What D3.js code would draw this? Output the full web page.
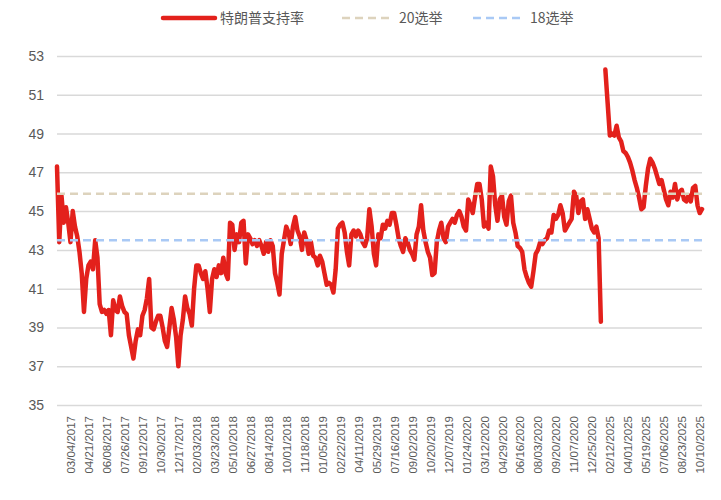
<!DOCTYPE html>
<html>
<head>
<meta charset="utf-8">
<script src="https://cdn.jsdelivr.net/npm/d3@7/dist/d3.min.js"></script>
<style>
  body { margin: 0; background: #fff; }
  #chart text { font-family: "Liberation Sans", Arial, sans-serif; fill: #595959; }
  #chart .legend text { font-family: "Noto Sans CJK SC", "Liberation Sans", sans-serif; }
</style>
</head>
<body>
<div id="chart"></div>
<script>
// x labels, one every 8 samples (48 days) starting at sample 6
const tickLabels = [
  "03/04/2017", "04/21/2017", "06/08/2017", "07/26/2017", "09/12/2017", "10/30/2017",
  "12/17/2017", "02/03/2018", "03/23/2018", "05/10/2018", "06/27/2018", "08/14/2018",
  "10/01/2018", "11/18/2018", "01/05/2019", "02/22/2019", "04/11/2019", "05/29/2019",
  "07/16/2019", "09/02/2019", "10/20/2019", "12/07/2019", "01/24/2020", "03/12/2020",
  "04/29/2020", "06/16/2020", "08/03/2020", "09/20/2020", "11/07/2020", "12/25/2020",
  "02/12/2025", "04/01/2025", "05/19/2025", "07/06/2025", "08/23/2025", "10/10/2025"
];
const firstTick = 6;
const tickStep = 8;

// approval rating, sampled every 6 days (null = gap between 2021 and 2025)
const approval = [
  47.3, 43.4, 45.8, 44.4, 45.2, 44.4, 43.4, 45.0, 44.2, 43.7,
  42.9, 41.8, 39.8, 41.5, 42.2, 42.4, 42.0, 43.5, 42.6, 40.2,
  39.8, 39.9, 39.7, 39.9, 38.6, 40.4, 39.9, 39.8, 40.6, 40.1,
  39.8, 39.7, 38.6, 38.0, 37.4, 38.3, 38.9, 38.6, 39.6, 39.9,
  40.5, 41.5, 39.0, 38.9, 39.3, 39.6, 39.6, 39.0, 38.3, 38.0,
  39.0, 40.0, 39.4, 38.5, 37.0, 38.6, 39.4, 40.6, 40.0, 39.7,
  39.1, 41.0, 42.2, 42.2, 41.8, 41.5, 41.9, 41.0, 39.8, 41.5,
  42.0, 41.6, 42.2, 41.8, 42.6, 41.8, 41.5, 44.4, 44.3, 43.0,
  43.8, 43.4, 44.4, 44.5, 42.3, 43.8, 43.6, 43.3, 43.5, 43.2,
  43.5, 43.2, 42.8, 43.4, 42.9, 43.5, 43.2, 41.8, 41.3, 40.7,
  42.8, 43.5, 44.2, 43.9, 43.3, 44.2, 44.7, 44.0, 43.7, 43.0,
  43.9, 43.5, 42.8, 43.4, 42.7, 42.6, 42.2, 42.7, 42.4, 41.8,
  41.2, 41.3, 41.2, 40.8, 42.0, 44.1, 44.3, 44.4, 43.9, 42.9,
  42.2, 43.8, 44.0, 43.7, 44.0, 43.8, 43.4, 43.2, 43.6, 45.1,
  44.2, 42.8, 42.2, 43.8, 43.6, 44.3, 44.1, 44.5, 44.3, 44.9,
  44.9, 44.3, 43.6, 43.2, 42.9, 43.6, 43.4, 43.0, 42.8, 42.5,
  43.8, 44.2, 45.3, 44.0, 43.4, 42.9, 42.6, 41.7, 41.8, 43.4,
  44.0, 44.4, 43.6, 43.4, 44.2, 44.4, 44.6, 44.4, 44.8, 45.0,
  44.7, 44.2, 44.0, 45.6, 45.3, 44.9, 45.7, 46.4, 46.4, 45.6,
  44.2, 44.4, 44.1, 47.3, 46.8, 45.3, 44.5, 45.6, 45.8, 44.7,
  44.3, 45.5, 45.8, 44.4, 43.9, 43.2, 43.1, 42.9, 42.0, 41.6,
  41.3, 41.1, 41.9, 42.8, 43.0, 43.4, 43.3, 43.5, 43.6, 44.0,
  43.9, 44.8, 44.6, 44.8, 45.3, 44.9, 44.0, 44.2, 44.4, 44.6,
  46.0, 45.8, 44.9, 45.5, 45.6, 44.6, 45.1, 44.6, 44.1, 43.9,
  44.2, 43.6, 39.3, null, 52.3, 50.6, 48.9, 49.0, 48.9, 49.4,
  48.8, 48.6, 48.1, 48.0, 47.8, 47.5, 47.1, 46.6, 46.2, 45.7,
  45.1, 45.2, 46.3, 47.2, 47.7, 47.5, 47.2, 46.8, 46.4, 46.6,
  46.1, 45.6, 45.3, 46.0, 45.7, 46.4, 45.6, 46.0, 46.1, 45.6,
  45.5, 45.8, 45.5, 46.2, 46.3, 45.3, 44.9, 45.1
];

// election reference levels
const election20 = 45.9;
const election18 = 43.5;

const yTicks = [35, 37, 39, 41, 43, 45, 47, 49, 51, 53];

const width = 721;
const height = 500;
const margin = { top: 56, right: 19, bottom: 95, left: 57 };

const svg = d3.select("#chart").append("svg").attr("width", width).attr("height", height);

const x = d3.scaleLinear().domain([0, approval.length - 1]).range([margin.left, width - margin.right]);
const y = d3.scaleLinear().domain([35, 53]).range([height - margin.bottom, margin.top]);

// horizontal grid + y labels
svg.append("g")
  .attr("transform", "translate(" + margin.left + ",0)")
  .call(d3.axisLeft(y).tickValues(yTicks).tickSize(-(width - margin.left - margin.right)).tickPadding(13).tickFormat(d3.format("d")))
  .call(g => g.select(".domain").remove())
  .call(g => g.selectAll(".tick line").attr("stroke", "#d9d9d9").attr("stroke-width", 1.5))
  .call(g => g.selectAll(".tick text").attr("font-size", 14).attr("fill", "#595959"));

// x labels (rotated)
const tickIdx = tickLabels.map((d, i) => firstTick + i * tickStep);
svg.append("g")
  .attr("transform", "translate(0," + (height - margin.bottom) + ")")
  .call(d3.axisBottom(x).tickValues(tickIdx).tickSize(0).tickFormat((d, i) => tickLabels[i]))
  .call(g => g.select(".domain").remove())
  .call(g => g.selectAll(".tick text")
    .attr("font-size", 11.5)
    .attr("fill", "#666")
    .attr("text-anchor", "end")
    .attr("transform", "rotate(-90)")
    .attr("x", -11)
    .attr("y", 0)
    .attr("dy", "0.35em"));

// approval line
const line = d3.line()
  .defined(d => d != null)
  .x((d, i) => x(i))
  .y(d => y(d));

svg.append("path")
  .datum(approval)
  .attr("fill", "none")
  .attr("stroke", "#e3211c")
  .attr("stroke-width", 4.5)
  .attr("stroke-linejoin", "round")
  .attr("stroke-linecap", "round")
  .attr("d", line);

// election reference lines
const refs = [
  { value: election20, color: "#ddd3bd" },
  { value: election18, color: "#a9c9f5" }
];
svg.selectAll(".ref")
  .data(refs)
  .enter()
  .append("line")
  .attr("class", "ref")
  .attr("x1", x(0))
  .attr("x2", x(approval.length - 1))
  .attr("y1", d => y(d.value))
  .attr("y2", d => y(d.value))
  .attr("stroke", d => d.color)
  .attr("stroke-width", 2.5)
  .attr("stroke-dasharray", "8,5");

// legend
const legendItems = [
  { name: "特朗普支持率", color: "#e3211c", dash: null, x: 163 },
  { name: "20选举", color: "#ddd3bd", dash: "8,5", x: 342 },
  { name: "18选举", color: "#a9c9f5", dash: "8,5", x: 473 }
];
const legend = svg.append("g").attr("class", "legend");
const item = legend.selectAll("g")
  .data(legendItems)
  .enter()
  .append("g")
  .attr("transform", d => "translate(" + d.x + ",18)");
item.append("line")
  .attr("x1", 0).attr("x2", 52)
  .attr("stroke", d => d.color)
  .attr("stroke-width", d => d.dash ? 2.5 : 4.5)
  .attr("stroke-linecap", d => d.dash ? "butt" : "round")
  .attr("stroke-dasharray", d => d.dash);
item.append("text")
  .attr("x", 57)
  .attr("dy", "0.35em")
  .attr("font-size", 14)
  .text(d => d.name);
</script>
</body>
</html>
